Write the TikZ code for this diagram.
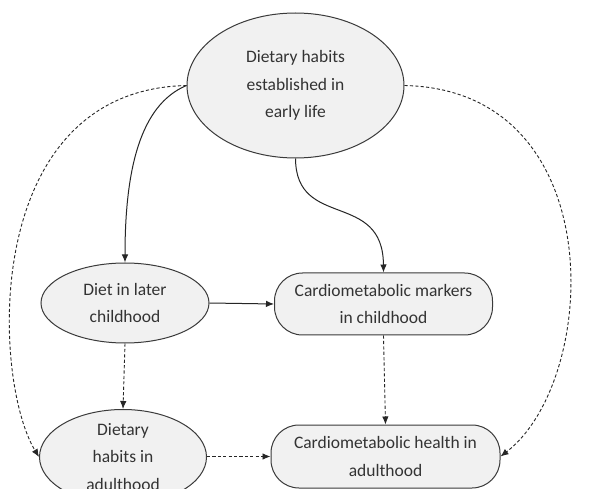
\documentclass[tikz,border=0pt]{standalone}
\usepackage{fontspec}
\setmainfont{Carlito}
\usetikzlibrary{shapes.geometric,arrows.meta}
\definecolor{boxfill}{HTML}{F1F1F1}
\definecolor{boxline}{HTML}{3A3A3A}
\begin{document}
\begin{tikzpicture}[x=1pt,y=-1pt,
  every node/.style={font=\fontsize{17.5}{27.5}\selectfont, text=black!80, align=center},
  ell/.style={ellipse, draw=boxline, fill=boxfill, line width=1pt, inner sep=0pt},
  rbox/.style={rectangle, rounded corners=28pt, draw=boxline, fill=boxfill, line width=1pt, inner sep=0pt},
  solidarr/.style={draw=black!85, line width=1pt, -{Latex[length=8pt,width=6.5pt]}},
  dasharr/.style={draw=black!85, line width=0.9pt, dash pattern=on 3.2pt off 2.2pt, -{Latex[length=8pt,width=6.5pt]}}
]
\path[use as bounding box] (0,0) rectangle (611,489);
\clip (0,0) rectangle (611,489);
\fill[white] (0,0) rectangle (611,489);

\node[ell, minimum width=217pt, minimum height=145pt] (early) at (295.5,85.5) {Dietary habits\\established in\\early life};
\node[ell, minimum width=168pt, minimum height=80pt] (later) at (125,303) {Diet in later\\childhood};
\node[rbox, minimum width=218pt, minimum height=62pt] (markers) at (383.5,304) {Cardiometabolic markers\\in childhood};
\node[ell, minimum width=167pt, minimum height=84pt] (adhab) at (123,457) {Dietary\\habits in\\adulthood};
\node[rbox, minimum width=229pt, minimum height=63pt] (adhealth) at (385.5,456.5) {Cardiometabolic health in\\adulthood};

\coordinate (eW) at (early.west);
\coordinate (eE) at (early.east);
\coordinate (eS) at (early.south);

\draw[solidarr] (eW) .. controls (140,105) and (125,170) .. (later.north);
\draw[solidarr] (eS) .. controls (296,230) and (383,190) .. (markers.north);
\draw[solidarr] (later.east) -- (markers.west);
\draw[dasharr] (later.south) -- (adhab.north);
\draw[dasharr] (markers.south) -- (adhealth.north);
\draw[dasharr] (adhab.east |- adhealth.west) -- (adhealth.west);
\draw[dasharr] (eW) .. controls (-20,90) and (-8,380) .. (adhab.west);
\draw[dasharr] (eE) .. controls (612,90) and (600,380) .. (adhealth.east);
\end{tikzpicture}
\end{document}
